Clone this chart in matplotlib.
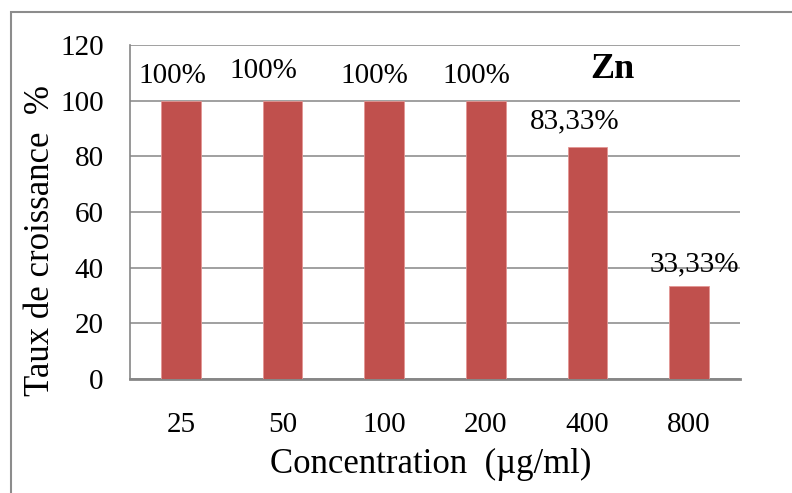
import matplotlib.pyplot as plt
from matplotlib.patches import Rectangle

plt.rcParams['font.family'] = ['Liberation Serif', 'DejaVu Serif']

# Growth rate per concentration of Zn
concentrations = ['25', '50', '100', '200', '400', '800']
taux = [100, 100, 100, 100, 83.33, 33.33]
labels = ['100%', '100%', '100%', '100%', '83,33%', '33,33%']

# label offsets in points (x, y) from the top of each bar to the text baseline
label_offsets = [(-5.8, 13), (-13.7, 16.5), (-7.2, 13), (-6.5, 13), (-9.4, 13.7), (3.6, 10.8)]

fig = plt.figure(figsize=(7.92, 4.93), dpi=100)
ax = fig.add_axes([130/792, 1 - 379/493, 610/792, 334/493])

bar_color = '#C0504D'
x = range(len(concentrations))
ax.bar(x, taux, width=0.39, color=bar_color, edgecolor='#E39694', linewidth=0.6, zorder=3)

ax.set_xlim(-0.5, len(concentrations) - 0.5)
ax.set_ylim(0, 120)
ax.set_yticks(range(0, 121, 20))
ax.set_xticks(list(x))
ax.set_xticklabels(concentrations)
ax.yaxis.grid(True, color='#868686', linewidth=1.1, zorder=0)
ax.set_axisbelow(True)

for s in ['top', 'right']:
    ax.spines[s].set_visible(False)
ax.spines['left'].set_color('#868686')
ax.spines['left'].set_linewidth(1.2)
ax.spines['bottom'].set_color('#868686')
ax.spines['bottom'].set_linewidth(2)

ax.tick_params(axis='both', length=0, labelsize=21)
ax.tick_params(axis='y', pad=19)
ax.tick_params(axis='x', pad=24)

ax.set_ylabel('Taux de croissance  %', fontsize=25)
ax.set_xlabel('Concentration  (µg/ml)', fontsize=25)
ax.yaxis.set_label_coords(-0.12, 0.416)
ax.xaxis.set_label_coords(0.493, -0.207)

for i, (v, lab) in enumerate(zip(taux, labels)):
    dx, dy = label_offsets[i]
    ax.annotate(lab, xy=(i, v), xytext=(dx, dy), textcoords='offset points',
                ha='center', va='baseline', fontsize=21, zorder=4)

ax.text(4.24, 108.2, 'Zn', fontsize=26, fontweight='bold', ha='center', va='baseline')

# outer chart border
fig.patches.append(Rectangle((11/792, -0.1), 1.2, 1 - 12/493 + 0.1,
                             transform=fig.transFigure, fill=False,
                             edgecolor='#8C8C8C', linewidth=1.5))

fig.savefig('out.png', dpi=100)
